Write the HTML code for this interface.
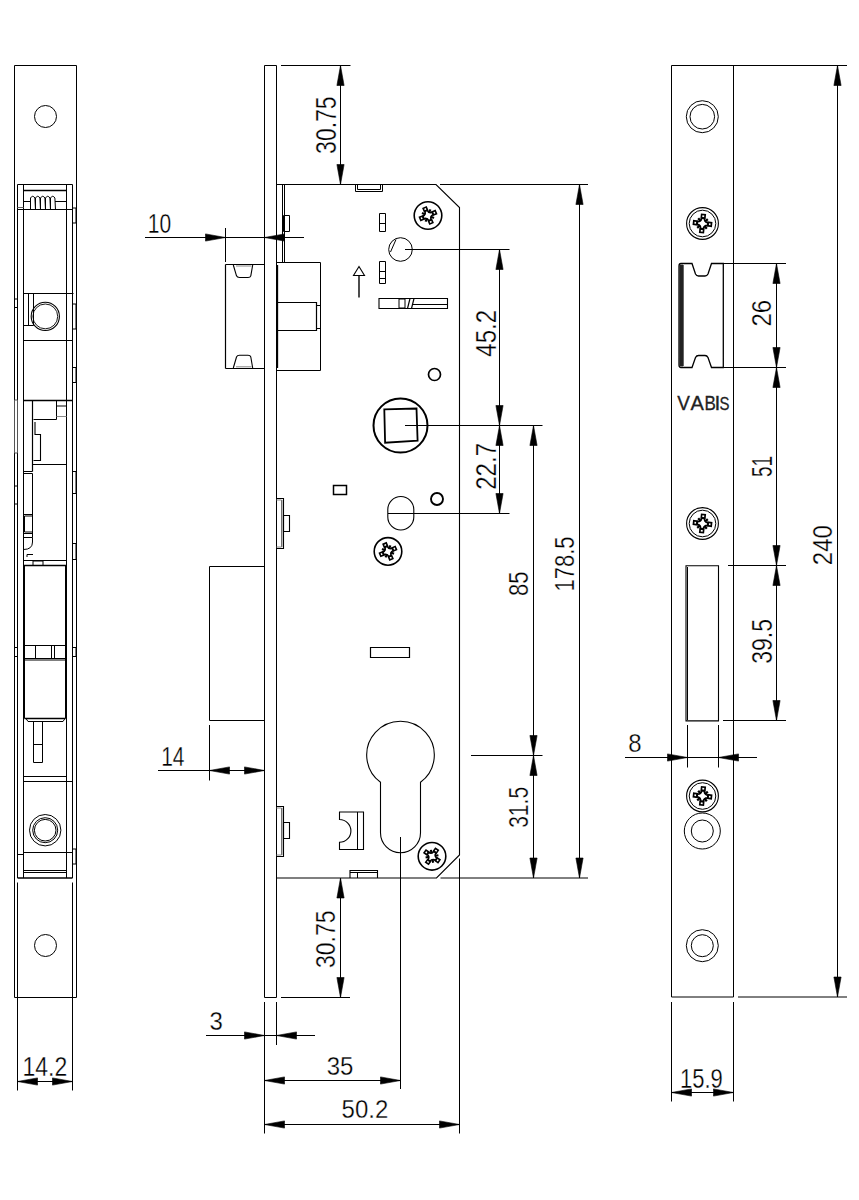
<!DOCTYPE html>
<html><head><meta charset="utf-8"><title>Lock drawing</title>
<style>
html,body{margin:0;padding:0;background:#fff;}
svg{display:block;}
text{font-family:"Liberation Sans", sans-serif;}
</style></head><body>
<svg width="859" height="1200" viewBox="0 0 859 1200">
<rect x="0" y="0" width="859" height="1200" fill="#fff"/>
<g fill="none" stroke="#000" stroke-width="1" stroke-linecap="butt">
<path d="M14.5 65.5 L76.5 65.5 L76.5 997.5 L14.5 997.5 Z"/>
<circle cx="45.5" cy="116.5" r="11"/>
<circle cx="45.5" cy="945.5" r="11"/>
<line x1="17.5" y1="184.5" x2="17.5" y2="878"/>
<line x1="72.5" y1="184.5" x2="72.5" y2="878"/>
<line x1="17.5" y1="184.5" x2="72.5" y2="184.5"/>
<line x1="17.5" y1="878" x2="72.5" y2="878" stroke-width="1.4"/>
<line x1="17.5" y1="882.5" x2="17.5" y2="1090.5"/>
<line x1="72.5" y1="882.5" x2="72.5" y2="1090.5"/>
<line x1="17.5" y1="1081.5" x2="72.5" y2="1081.5"/>
<path d="M17.5 1081.5 L37.5 1077.9 L37.5 1085.1 Z" stroke-width="0.6" fill="#000"/>
<path d="M72.5 1081.5 L52.5 1077.9 L52.5 1085.1 Z" stroke-width="0.6" fill="#000"/>
<text transform="matrix(0.23 0 0 0.27 22.46 1075.8)" font-size="100" fill="#000" stroke="#fff" stroke-width="1.2">14.2</text>
<line x1="23.5" y1="184.5" x2="23.5" y2="878"/>
<line x1="66.5" y1="184.5" x2="66.5" y2="878"/>
<line x1="23.5" y1="190.5" x2="66.5" y2="190.5" stroke-width="1.3"/>
<line x1="23.5" y1="201.5" x2="30" y2="201.5"/>
<line x1="55" y1="201.5" x2="66.5" y2="201.5"/>
<path d="M30.5 210 L30.5 198 Q32.7 194.5 34.9 198 L35.5 210" stroke-width="1.0"/>
<path d="M35.5 210 L35.5 198 Q37.7 194.5 39.9 198 L40.5 210" stroke-width="1.0"/>
<path d="M40.5 210 L40.5 198 Q42.7 194.5 44.9 198 L45.5 210" stroke-width="1.0"/>
<path d="M45.5 210 L45.5 198 Q47.7 194.5 49.9 198 L50.5 210" stroke-width="1.0"/>
<path d="M50.5 210 L50.5 198 Q52.7 194.5 54.9 198 L55.5 210" stroke-width="1.0"/>
<line x1="17.5" y1="209.5" x2="72.5" y2="209.5" stroke-width="1.2"/>
<line x1="17.5" y1="207.5" x2="23.5" y2="207.5" stroke="#666"/>
<path d="M72.5 208 L76 208 L76 223 L72.5 223 Z"/>
<line x1="23.5" y1="293.5" x2="73.5" y2="293.5" stroke-width="1.2"/>
<line x1="28.5" y1="293.5" x2="28.5" y2="325.5"/>
<line x1="33.5" y1="293.5" x2="33.5" y2="325.5"/>
<line x1="23.5" y1="325.5" x2="33.5" y2="325.5"/>
<circle cx="45.3" cy="316.4" r="14.1" stroke-width="1.1"/>
<circle cx="45.3" cy="316.4" r="12.4" stroke-width="0.9"/>
<line x1="23.5" y1="340.5" x2="72.5" y2="340.5" stroke-width="1.2"/>
<path d="M14.5 299 L17.5 299 L17.5 307.5 L14.5 307.5 Z"/>
<path d="M72.5 304 L76 304 L76 329 L72.5 329 Z"/>
<path d="M72.5 367.5 L76 367.5 L76 382.5 L72.5 382.5 Z"/>
<line x1="23.5" y1="400.5" x2="72.5" y2="400.5" stroke-width="1.4"/>
<line x1="32.5" y1="400.5" x2="32.5" y2="471.5" stroke-width="1.2"/>
<line x1="56.5" y1="400.5" x2="56.5" y2="419.5"/>
<line x1="56.5" y1="406" x2="66.5" y2="406"/>
<line x1="56.5" y1="416.5" x2="66.5" y2="416.5" stroke="#888"/>
<path d="M33.5 419.5 L56.5 419.5 M35 422 L35 434.5 L40.5 434.5 L40.5 460.5 L33.5 460.5 M33 464.5 L66.5 464.5" stroke-width="1.1"/>
<line x1="23.5" y1="471.5" x2="32.5" y2="471.5"/>
<line x1="23.5" y1="473.5" x2="32.5" y2="473.5"/>
<line x1="23.5" y1="514.5" x2="32.5" y2="514.5"/>
<line x1="32.5" y1="473.5" x2="32.5" y2="537.5"/>
<path d="M72.5 543.5 L76 543.5 L76 559.5 L72.5 559.5 Z"/>
<path d="M24.5 516 L32.5 516 L32.5 532 L24.5 532 Z"/>
<line x1="23.5" y1="533.5" x2="32.5" y2="533.5"/>
<line x1="23.5" y1="537.5" x2="32.5" y2="537.5"/>
<path d="M32.5 537.5 L32.5 542 Q32.5 549.5 23.5 549.5" stroke-width="1.0"/>
<path d="M27 557 L27 554.5 L33 554.5"/>
<line x1="23.5" y1="560.5" x2="66.5" y2="560.5"/>
<path d="M33 561 L43 561 L43 565.5 L33 565.5 Z"/>
<line x1="23.5" y1="565.5" x2="66.5" y2="565.5" stroke-width="1.4"/>
<path d="M14.5 400 L17.5 400 L17.5 453 L14.5 453 Z" stroke="#555"/>
<path d="M72.5 471.5 L76 471.5 L76 493.5 L72.5 493.5 Z"/>
<path d="M14.5 486 L17.5 486 L17.5 504 L14.5 504 Z"/>
<line x1="24.5" y1="565.5" x2="24.5" y2="718.5"/>
<line x1="65.5" y1="565.5" x2="65.5" y2="718.5"/>
<line x1="24.5" y1="645.5" x2="65.5" y2="645.5" stroke-width="1.2"/>
<line x1="35.5" y1="645.5" x2="35.5" y2="658"/>
<line x1="51.5" y1="645.5" x2="51.5" y2="658"/>
<line x1="54.5" y1="645.5" x2="54.5" y2="658"/>
<line x1="23.5" y1="658.5" x2="66.5" y2="658.5" stroke-width="1.2"/>
<line x1="23.5" y1="660" x2="66.5" y2="660"/>
<path d="M14.5 647.5 L17.5 647.5 L17.5 656.5 L14.5 656.5 Z"/>
<path d="M72.5 647.5 L76 647.5 L76 656.5 L72.5 656.5 Z"/>
<line x1="24.5" y1="718.5" x2="65.5" y2="718.5" stroke-width="1.3"/>
<path d="M26 718.5 L28 721.5 L63 721.5 L65 718.5" stroke-width="1.0"/>
<path d="M33.5 721.5 L42.5 721.5 L42.5 762.5 L33.5 762.5 Z"/>
<line x1="33.5" y1="744.5" x2="42.5" y2="744.5"/>
<line x1="23.5" y1="776.5" x2="66.5" y2="776.5" stroke-width="1.2"/>
<line x1="23.5" y1="781.5" x2="73" y2="781.5"/>
<circle cx="45.2" cy="830.2" r="15.7" stroke-width="1.0"/>
<circle cx="45.2" cy="830.2" r="12.5" stroke-width="1.0"/>
<circle cx="45.2" cy="830.2" r="10.8" stroke-width="1.0"/>
<line x1="23.5" y1="852.5" x2="72.5" y2="852.5"/>
<line x1="17.5" y1="854.5" x2="23.5" y2="854.5"/>
<path d="M72.5 849 L76 849 L76 864 L72.5 864 Z"/>
<line x1="23.5" y1="870.5" x2="66.5" y2="870.5"/>
<line x1="23.5" y1="872.5" x2="66.5" y2="872.5"/>
<path d="M264.5 65.5 L276.5 65.5 L276.5 997.5 L264.5 997.5 Z"/>
<path d="M276.5 184.5 L436 184.5 L459.5 207.5 L459.5 855 L436.5 878 L276.5 878" stroke-width="1.1"/>
<line x1="281" y1="65.5" x2="350.5" y2="65.5"/>
<line x1="340.5" y1="65.5" x2="340.5" y2="184.5"/>
<path d="M340.5 65.5 L336.9 85.5 L344.1 85.5 Z" stroke-width="0.6" fill="#000"/>
<path d="M340.5 184.5 L336.9 164.5 L344.1 164.5 Z" stroke-width="0.6" fill="#000"/>
<text transform="matrix(0 -0.23 0.29 0 335.52 153.88)" font-size="100" fill="#000" stroke="#fff" stroke-width="1.2">30.75</text>
<line x1="440" y1="184.5" x2="588" y2="184.5"/>
<line x1="579.5" y1="184.5" x2="579.5" y2="878"/>
<path d="M579.5 184.5 L575.9 204.5 L583.1 204.5 Z" stroke-width="0.6" fill="#000"/>
<path d="M579.5 878 L575.9 858 L583.1 858 Z" stroke-width="0.6" fill="#000"/>
<text transform="matrix(0 -0.22 0.28 0 573.53 591.47)" font-size="100" fill="#000" stroke="#fff" stroke-width="1.2">178.5</text>
<line x1="405" y1="249.5" x2="509.5" y2="249.5"/>
<line x1="499.5" y1="249.5" x2="499.5" y2="425.5"/>
<path d="M499.5 249.5 L495.9 269.5 L503.1 269.5 Z" stroke-width="0.6" fill="#000"/>
<path d="M499.5 425.5 L495.9 405.5 L503.1 405.5 Z" stroke-width="0.6" fill="#000"/>
<text transform="matrix(0 -0.24 0.3 0 495.61 356.66)" font-size="100" fill="#000" stroke="#fff" stroke-width="1.2">45.2</text>
<line x1="405" y1="425.5" x2="542.5" y2="425.5"/>
<line x1="499.5" y1="425.5" x2="499.5" y2="513.5"/>
<path d="M499.5 425.5 L495.9 445.5 L503.1 445.5 Z" stroke-width="0.6" fill="#000"/>
<path d="M499.5 513.5 L495.9 493.5 L503.1 493.5 Z" stroke-width="0.6" fill="#000"/>
<text transform="matrix(0 -0.24 0.3 0 495.9 489.72)" font-size="100" fill="#000" stroke="#fff" stroke-width="1.2">22.7</text>
<line x1="388" y1="513.5" x2="509.5" y2="513.5"/>
<line x1="533.5" y1="425.5" x2="533.5" y2="755.5"/>
<path d="M533.5 425.5 L529.9 445.5 L537.1 445.5 Z" stroke-width="0.6" fill="#000"/>
<path d="M533.5 755.5 L529.9 735.5 L537.1 735.5 Z" stroke-width="0.6" fill="#000"/>
<text transform="matrix(0 -0.22 0.28 0 527.93 596.06)" font-size="100" fill="#000" stroke="#fff" stroke-width="1.2">85</text>
<line x1="471" y1="755.5" x2="542.5" y2="755.5"/>
<line x1="533.5" y1="755.5" x2="533.5" y2="878"/>
<path d="M533.5 755.5 L529.9 775.5 L537.1 775.5 Z" stroke-width="0.6" fill="#000"/>
<path d="M533.5 878 L529.9 858 L537.1 858 Z" stroke-width="0.6" fill="#000"/>
<text transform="matrix(0 -0.21 0.28 0 527.93 827.8)" font-size="100" fill="#000" stroke="#fff" stroke-width="1.2">31.5</text>
<line x1="440.5" y1="878" x2="588" y2="878"/>
<line x1="281" y1="997.5" x2="350" y2="997.5"/>
<line x1="340.5" y1="878" x2="340.5" y2="997.5"/>
<path d="M340.5 878 L336.9 898 L344.1 898 Z" stroke-width="0.6" fill="#000"/>
<path d="M340.5 997.5 L336.9 977.5 L344.1 977.5 Z" stroke-width="0.6" fill="#000"/>
<text transform="matrix(0 -0.23 0.28 0 334.63 967.99)" font-size="100" fill="#000" stroke="#fff" stroke-width="1.2">30.75</text>
<line x1="400.5" y1="837" x2="400.5" y2="1089"/>
<line x1="264.5" y1="1002" x2="264.5" y2="1133.5"/>
<line x1="276.5" y1="1002" x2="276.5" y2="1045"/>
<line x1="459.5" y1="858.5" x2="459.5" y2="1133.5"/>
<line x1="264.5" y1="1080.5" x2="400.5" y2="1080.5"/>
<path d="M264.5 1080.5 L284.5 1076.9 L284.5 1084.1 Z" stroke-width="0.6" fill="#000"/>
<path d="M400.5 1080.5 L380.5 1076.9 L380.5 1084.1 Z" stroke-width="0.6" fill="#000"/>
<text transform="matrix(0.24 0 0 0.26 326.68 1075.44)" font-size="100" fill="#000" stroke="#fff" stroke-width="1.2">35</text>
<line x1="264.5" y1="1124.5" x2="459.5" y2="1124.5"/>
<path d="M264.5 1124.5 L284.5 1120.9 L284.5 1128.1 Z" stroke-width="0.6" fill="#000"/>
<path d="M459.5 1124.5 L439.5 1120.9 L439.5 1128.1 Z" stroke-width="0.6" fill="#000"/>
<text transform="matrix(0.24 0 0 0.25 341.56 1118.06)" font-size="100" fill="#000" stroke="#fff" stroke-width="1.2">50.2</text>
<line x1="206" y1="1035.5" x2="315" y2="1035.5"/>
<path d="M264.5 1035.5 L244.5 1031.9 L244.5 1039.1 Z" stroke-width="0.6" fill="#000"/>
<path d="M276.5 1035.5 L296.5 1031.9 L296.5 1039.1 Z" stroke-width="0.6" fill="#000"/>
<text transform="matrix(0.24 0 0 0.25 209.57 1030.45)" font-size="100" fill="#000" stroke="#fff" stroke-width="1.2">3</text>
<line x1="145" y1="237.5" x2="304" y2="237.5"/>
<path d="M225.5 237.5 L205.5 233.9 L205.5 241.1 Z" stroke-width="0.6" fill="#000"/>
<path d="M264.5 237.5 L284.5 233.9 L284.5 241.1 Z" stroke-width="0.6" fill="#000"/>
<line x1="225.5" y1="228" x2="225.5" y2="262"/>
<text transform="matrix(0.21 0 0 0.27 147.73 232.74)" font-size="100" fill="#000" stroke="#fff" stroke-width="1.2">10</text>
<line x1="158" y1="770.5" x2="264.5" y2="770.5"/>
<path d="M209.5 770.5 L229.5 766.9 L229.5 774.1 Z" stroke-width="0.6" fill="#000"/>
<path d="M264.5 770.5 L244.5 766.9 L244.5 774.1 Z" stroke-width="0.6" fill="#000"/>
<line x1="209.5" y1="725" x2="209.5" y2="780.5"/>
<text transform="matrix(0.21 0 0 0.27 161.17 765.5)" font-size="100" fill="#000" stroke="#fff" stroke-width="1.2">14</text>
<path d="M264.5 566.5 L209.5 566.5 L209.5 720.5 L264.5 720.5"/>
<line x1="225.5" y1="264.5" x2="264.5" y2="264.5" stroke-width="1.2"/>
<line x1="225.5" y1="368.5" x2="264.5" y2="368.5" stroke-width="1.2"/>
<line x1="225.5" y1="264.5" x2="225.5" y2="368.5" stroke-width="1.2"/>
<path d="M233.3 265 L236.5 275.8 Q237.2 277.5 239.5 277.5 L248 277.5 Q250.3 277.5 250.8 275.8 L252.7 265" stroke-width="1.1"/>
<path d="M233.3 368 L236.5 357 Q237.2 355.3 239.5 355.3 L248 355.3 Q250.3 355.3 250.8 357 L252.7 368" stroke-width="1.1"/>
<line x1="236" y1="266" x2="251.5" y2="266" stroke="#888"/>
<line x1="236" y1="366.8" x2="251.5" y2="366.8" stroke="#888"/>
<path d="M276.5 262.5 L320.5 262.5 L320.5 370.5 L276.5 370.5"/>
<line x1="277.5" y1="265" x2="277.5" y2="368" stroke-width="1.3"/>
<path d="M277.5 302.5 L316.5 302.5 L316.5 330.5 L277.5 330.5" stroke-width="1.2"/>
<path d="M316.5 305.5 L320.5 305.5 L320.5 328.5 L316.5 328.5"/>
<line x1="282.5" y1="184.5" x2="282.5" y2="262.5"/>
<line x1="284.5" y1="184.5" x2="284.5" y2="262.5"/>
<path d="M283.5 215.5 L289.5 215.5 L289.5 231.5 L283.5 231.5 Z"/>
<path d="M276.5 498.5 L283.5 498.5 L283.5 548.5 L276.5 548.5" stroke-width="1.1"/>
<line x1="281.8" y1="500" x2="281.8" y2="547" stroke="#333"/>
<line x1="276.5" y1="500" x2="281.5" y2="500" stroke="#888"/>
<line x1="276.5" y1="547" x2="281.5" y2="547" stroke="#888"/>
<path d="M283.5 515.5 L289.5 515.5 L289.5 531.5 L283.5 531.5 Z" stroke-width="1.1"/>
<path d="M276.5 806.5 L283.5 806.5 L283.5 856.5 L276.5 856.5" stroke-width="1.1"/>
<line x1="281.8" y1="808" x2="281.8" y2="855" stroke="#333"/>
<line x1="276.5" y1="808" x2="281.5" y2="808" stroke="#888"/>
<line x1="276.5" y1="855" x2="281.5" y2="855" stroke="#888"/>
<path d="M283.5 822.5 L289.5 822.5 L289.5 838.5 L283.5 838.5 Z" stroke-width="1.1"/>
<path d="M355.5 184.5 L355.5 191.5 L382.5 191.5 L382.5 184.5"/>
<line x1="357.5" y1="184.5" x2="357.5" y2="189.5"/>
<line x1="380.5" y1="184.5" x2="380.5" y2="189.5"/>
<line x1="357.5" y1="189.5" x2="380.5" y2="189.5"/>
<g transform="translate(428 215.5)">
<circle cx="0" cy="0" r="13.8" stroke-width="1.6"/>
<g transform="rotate(-23) scale(1.0)">
<path d="M5.3 -1.2 L5.3 1.2 Q1.41 1.41 1.2 5.3 L1.2 5.3 L-1.2 5.3 Q-1.41 1.41 -5.3 1.2 L-5.3 1.2 L-5.3 -1.2 Q-1.41 -1.41 -1.2 -5.3 L-1.2 -5.3 L1.2 -5.3 Q1.41 -1.41 5.3 -1.2 Z" stroke-width="1.6"/>
<path d="M5.1 -1.7 L8.5 -1.7 L8.5 1.7 L5.1 1.7 Z" stroke-width="1.6"/>
<line x1="2.12" y1="2.12" x2="4.6" y2="4.6" stroke-width="2.1"/>
<path d="M1.7 5.1 L1.7 8.5 L-1.7 8.5 L-1.7 5.1 Z" stroke-width="1.6"/>
<line x1="-2.12" y1="2.12" x2="-4.6" y2="4.6" stroke-width="2.1"/>
<path d="M-5.1 1.7 L-8.5 1.7 L-8.5 -1.7 L-5.1 -1.7 Z" stroke-width="1.6"/>
<line x1="-2.12" y1="-2.12" x2="-4.6" y2="-4.6" stroke-width="2.1"/>
<path d="M-1.7 -5.1 L-1.7 -8.5 L1.7 -8.5 L1.7 -5.1 Z" stroke-width="1.6"/>
<line x1="2.12" y1="-2.12" x2="4.6" y2="-4.6" stroke-width="2.1"/>
</g></g>
<path d="M379.5 213.5 L385.5 213.5 L385.5 231.5 L379.5 231.5 Z"/>
<line x1="379.5" y1="223.5" x2="385.5" y2="223.5"/>
<path d="M379.5 261.5 L385.5 261.5 L385.5 283.5 L379.5 283.5 Z"/>
<line x1="379.5" y1="271.5" x2="385.5" y2="271.5"/>
<line x1="379.5" y1="278.5" x2="385.5" y2="278.5"/>
<circle cx="400.5" cy="249.5" r="11.8"/>
<line x1="390.5" y1="252" x2="396" y2="239.5"/>
<path d="M359 266.5 L364.5 275.5 L353.5 275.5 Z" stroke-width="1.1"/>
<line x1="359" y1="275.5" x2="359" y2="297.5" stroke-width="1.4"/>
<path d="M379 298.5 L447.5 298.5 L447.5 308.5 L379 308.5 Z" stroke-width="1.1"/>
<line x1="412.5" y1="304.5" x2="447.5" y2="304.5"/>
<path d="M399 299 L405 299 L405 308 L399 308 Z"/>
<line x1="407.5" y1="308.5" x2="410" y2="298.5" stroke-width="1.2"/>
<line x1="411.5" y1="308.5" x2="414" y2="298.5" stroke-width="1.2"/>
<circle cx="434.5" cy="374.5" r="6" stroke-width="1.7"/>
<circle cx="400.5" cy="425.5" r="27" stroke-width="2.0"/>
<path d="M384.3 409.4 L416.5 408.5 L417.6 440.7 L385.1 442.7 Z" stroke-width="1.8"/>
<path d="M333.5 485.5 L346.5 485.5 L346.5 494.5 L333.5 494.5 Z" stroke-width="1.5"/>
<circle cx="437" cy="499" r="6" stroke-width="1.9"/>
<path d="M387.8 509.5 A13 13 0 0 1 413.8 509.5 L413.8 517 A13 13 0 0 1 387.8 517 Z" stroke-width="1.1"/>
<g transform="translate(388 551.4)">
<circle cx="0" cy="0" r="13.8" stroke-width="1.6"/>
<g transform="rotate(-23) scale(1.0)">
<path d="M5.3 -1.2 L5.3 1.2 Q1.41 1.41 1.2 5.3 L1.2 5.3 L-1.2 5.3 Q-1.41 1.41 -5.3 1.2 L-5.3 1.2 L-5.3 -1.2 Q-1.41 -1.41 -1.2 -5.3 L-1.2 -5.3 L1.2 -5.3 Q1.41 -1.41 5.3 -1.2 Z" stroke-width="1.6"/>
<path d="M5.1 -1.7 L8.5 -1.7 L8.5 1.7 L5.1 1.7 Z" stroke-width="1.6"/>
<line x1="2.12" y1="2.12" x2="4.6" y2="4.6" stroke-width="2.1"/>
<path d="M1.7 5.1 L1.7 8.5 L-1.7 8.5 L-1.7 5.1 Z" stroke-width="1.6"/>
<line x1="-2.12" y1="2.12" x2="-4.6" y2="4.6" stroke-width="2.1"/>
<path d="M-5.1 1.7 L-8.5 1.7 L-8.5 -1.7 L-5.1 -1.7 Z" stroke-width="1.6"/>
<line x1="-2.12" y1="-2.12" x2="-4.6" y2="-4.6" stroke-width="2.1"/>
<path d="M-1.7 -5.1 L-1.7 -8.5 L1.7 -8.5 L1.7 -5.1 Z" stroke-width="1.6"/>
<line x1="2.12" y1="-2.12" x2="4.6" y2="-4.6" stroke-width="2.1"/>
</g></g>
<path d="M370.5 647.5 L409.5 647.5 L409.5 657.5 L370.5 657.5 Z" stroke-width="1.2"/>
<path d="M380.5 782.3 A33.8 33.8 0 1 1 420.5 782.3 L420.5 832.7 A20 20 0 0 1 380.5 832.7 Z" stroke-width="1.1"/>
<path d="M363.5 812 L339.5 812 L339.5 819.5 A11.4 11.4 0 0 1 339.5 842.3 L339.5 849.5 L363.5 849.5 Z" stroke-width="1.1"/>
<line x1="357.5" y1="812" x2="357.5" y2="849.5"/>
<path d="M350 878 L350 870.5 L377.5 870.5 L377.5 878" stroke-width="1.1"/>
<line x1="350" y1="872.5" x2="377.5" y2="872.5"/>
<line x1="357.5" y1="872.5" x2="357.5" y2="878"/>
<g transform="translate(432 856.3)">
<circle cx="0" cy="0" r="13.8" stroke-width="1.6"/>
<g transform="rotate(35) scale(1.0)">
<path d="M5.3 -1.2 L5.3 1.2 Q1.41 1.41 1.2 5.3 L1.2 5.3 L-1.2 5.3 Q-1.41 1.41 -5.3 1.2 L-5.3 1.2 L-5.3 -1.2 Q-1.41 -1.41 -1.2 -5.3 L-1.2 -5.3 L1.2 -5.3 Q1.41 -1.41 5.3 -1.2 Z" stroke-width="1.6"/>
<path d="M5.1 -1.7 L8.5 -1.7 L8.5 1.7 L5.1 1.7 Z" stroke-width="1.6"/>
<line x1="2.12" y1="2.12" x2="4.6" y2="4.6" stroke-width="2.1"/>
<path d="M1.7 5.1 L1.7 8.5 L-1.7 8.5 L-1.7 5.1 Z" stroke-width="1.6"/>
<line x1="-2.12" y1="2.12" x2="-4.6" y2="4.6" stroke-width="2.1"/>
<path d="M-5.1 1.7 L-8.5 1.7 L-8.5 -1.7 L-5.1 -1.7 Z" stroke-width="1.6"/>
<line x1="-2.12" y1="-2.12" x2="-4.6" y2="-4.6" stroke-width="2.1"/>
<path d="M-1.7 -5.1 L-1.7 -8.5 L1.7 -8.5 L1.7 -5.1 Z" stroke-width="1.6"/>
<line x1="2.12" y1="-2.12" x2="4.6" y2="-4.6" stroke-width="2.1"/>
</g></g>
<path d="M671.5 65.5 L733.5 65.5 L733.5 997 L671.5 997 Z"/>
<line x1="676" y1="65.5" x2="847" y2="65.5"/>
<line x1="738" y1="997" x2="847" y2="997"/>
<line x1="837.5" y1="65.5" x2="837.5" y2="997"/>
<path d="M837.5 65.5 L833.9 85.5 L841.1 85.5 Z" stroke-width="0.6" fill="#000"/>
<path d="M837.5 997 L833.9 977 L841.1 977 Z" stroke-width="0.6" fill="#000"/>
<text transform="matrix(0 -0.24 0.28 0 832.23 565.21)" font-size="100" fill="#000" stroke="#fff" stroke-width="1.2">240</text>
<circle cx="702.3" cy="116.7" r="16"/>
<circle cx="702.3" cy="116.7" r="12.3"/>
<g transform="translate(702.5 223.5)">
<circle cx="0" cy="0" r="15.9" stroke-width="1.1"/>
<circle cx="0" cy="0" r="13.3" stroke-width="1.0"/>
<g transform="rotate(6) scale(1.05)">
<path d="M5.3 -1.2 L5.3 1.2 Q1.41 1.41 1.2 5.3 L1.2 5.3 L-1.2 5.3 Q-1.41 1.41 -5.3 1.2 L-5.3 1.2 L-5.3 -1.2 Q-1.41 -1.41 -1.2 -5.3 L-1.2 -5.3 L1.2 -5.3 Q1.41 -1.41 5.3 -1.2 Z" stroke-width="1.6"/>
<path d="M5.1 -1.7 L8.5 -1.7 L8.5 1.7 L5.1 1.7 Z" stroke-width="1.6"/>
<line x1="2.12" y1="2.12" x2="4.6" y2="4.6" stroke-width="2.1"/>
<path d="M1.7 5.1 L1.7 8.5 L-1.7 8.5 L-1.7 5.1 Z" stroke-width="1.6"/>
<line x1="-2.12" y1="2.12" x2="-4.6" y2="4.6" stroke-width="2.1"/>
<path d="M-5.1 1.7 L-8.5 1.7 L-8.5 -1.7 L-5.1 -1.7 Z" stroke-width="1.6"/>
<line x1="-2.12" y1="-2.12" x2="-4.6" y2="-4.6" stroke-width="2.1"/>
<path d="M-1.7 -5.1 L-1.7 -8.5 L1.7 -8.5 L1.7 -5.1 Z" stroke-width="1.6"/>
<line x1="2.12" y1="-2.12" x2="4.6" y2="-4.6" stroke-width="2.1"/>
</g></g>
<path d="M723.3 263.5 L711.5 263.5 L708 274 Q707 276 705 276 L698.5 276 Q696.5 276 695.5 274 L692 263.5 L681 263.5 Q679 263.5 679 266 L679 365 Q679 367.5 681 367.5 L692 367.5 L695.5 357.5 Q696.5 355.5 698.5 355.5 L705 355.5 Q707 355.5 708 357.5 L711.5 367.5 L723.3 367.5 Z" stroke-width="1.3"/>
<path d="M680 265 L683 265 L683 366 L680 366 Z" stroke-width="0.8" stroke="#222"/>
<rect x="679.5" y="265" width="4" height="101" fill="#222" stroke="none"/>
<line x1="723.3" y1="263.5" x2="786" y2="263.5"/>
<line x1="723.3" y1="367.5" x2="786" y2="367.5"/>
<line x1="776.5" y1="263.5" x2="776.5" y2="367.5"/>
<path d="M776.5 263.5 L772.9 283.5 L780.1 283.5 Z" stroke-width="0.6" fill="#000"/>
<path d="M776.5 367.5 L772.9 347.5 L780.1 347.5 Z" stroke-width="0.6" fill="#000"/>
<text transform="matrix(0 -0.24 0.28 0 771.03 326.61)" font-size="100" fill="#000" stroke="#fff" stroke-width="1.2">26</text>
<text transform="matrix(0.19 0 0 0.2 677.32 410.4)" font-size="100" fill="#222" stroke="#222" stroke-width="1.5">V</text>
<text transform="matrix(0.2 0 0 0.2 690.46 410.4)" font-size="100" fill="#222" stroke="#222" stroke-width="1.5">A</text>
<text transform="matrix(0.17 0 0 0.2 704.43 410.4)" font-size="100" fill="#222" stroke="#222" stroke-width="1.5">B</text>
<text transform="matrix(0.21 0 0 0.2 714.52 410.4)" font-size="100" fill="#222" stroke="#222" stroke-width="1.5">I</text>
<text transform="matrix(0.15 0 0 0.19 719.53 410.21)" font-size="100" fill="#222" stroke="#222" stroke-width="1.5">S</text>
<line x1="776.5" y1="367.5" x2="776.5" y2="565.5"/>
<path d="M776.5 367.5 L772.9 387.5 L780.1 387.5 Z" stroke-width="0.6" fill="#000"/>
<path d="M776.5 565.5 L772.9 545.5 L780.1 545.5 Z" stroke-width="0.6" fill="#000"/>
<text transform="matrix(0 -0.19 0.29 0 771.62 477.07)" font-size="100" fill="#000" stroke="#fff" stroke-width="1.2">51</text>
<g transform="translate(702.5 523.5)">
<circle cx="0" cy="0" r="15.9" stroke-width="1.1"/>
<circle cx="0" cy="0" r="13.3" stroke-width="1.0"/>
<g transform="rotate(6) scale(1.05)">
<path d="M5.3 -1.2 L5.3 1.2 Q1.41 1.41 1.2 5.3 L1.2 5.3 L-1.2 5.3 Q-1.41 1.41 -5.3 1.2 L-5.3 1.2 L-5.3 -1.2 Q-1.41 -1.41 -1.2 -5.3 L-1.2 -5.3 L1.2 -5.3 Q1.41 -1.41 5.3 -1.2 Z" stroke-width="1.6"/>
<path d="M5.1 -1.7 L8.5 -1.7 L8.5 1.7 L5.1 1.7 Z" stroke-width="1.6"/>
<line x1="2.12" y1="2.12" x2="4.6" y2="4.6" stroke-width="2.1"/>
<path d="M1.7 5.1 L1.7 8.5 L-1.7 8.5 L-1.7 5.1 Z" stroke-width="1.6"/>
<line x1="-2.12" y1="2.12" x2="-4.6" y2="4.6" stroke-width="2.1"/>
<path d="M-5.1 1.7 L-8.5 1.7 L-8.5 -1.7 L-5.1 -1.7 Z" stroke-width="1.6"/>
<line x1="-2.12" y1="-2.12" x2="-4.6" y2="-4.6" stroke-width="2.1"/>
<path d="M-1.7 -5.1 L-1.7 -8.5 L1.7 -8.5 L1.7 -5.1 Z" stroke-width="1.6"/>
<line x1="2.12" y1="-2.12" x2="4.6" y2="-4.6" stroke-width="2.1"/>
</g></g>
<path d="M686 565.7 L718.5 565.7 L718.5 720.9 L686 720.9 Z" stroke-width="1.1"/>
<line x1="687.5" y1="567" x2="687.5" y2="720"/>
<line x1="728" y1="565.5" x2="786" y2="565.5"/>
<line x1="776.5" y1="565.5" x2="776.5" y2="720.5"/>
<path d="M776.5 565.5 L772.9 585.5 L780.1 585.5 Z" stroke-width="0.6" fill="#000"/>
<path d="M776.5 720.5 L772.9 700.5 L780.1 700.5 Z" stroke-width="0.6" fill="#000"/>
<text transform="matrix(0 -0.23 0.29 0 771.52 663.78)" font-size="100" fill="#000" stroke="#fff" stroke-width="1.2">39.5</text>
<line x1="723" y1="720.5" x2="786" y2="720.5"/>
<line x1="625" y1="757.5" x2="757" y2="757.5"/>
<path d="M687.5 757.5 L667.5 753.9 L667.5 761.1 Z" stroke-width="0.6" fill="#000"/>
<path d="M718.5 757.5 L738.5 753.9 L738.5 761.1 Z" stroke-width="0.6" fill="#000"/>
<line x1="687.5" y1="725" x2="687.5" y2="767.5"/>
<line x1="718.5" y1="725" x2="718.5" y2="767.5"/>
<text transform="matrix(0.24 0 0 0.26 628.27 752.34)" font-size="100" fill="#000" stroke="#fff" stroke-width="1.2">8</text>
<g transform="translate(702.5 796)">
<circle cx="0" cy="0" r="15.9" stroke-width="1.1"/>
<circle cx="0" cy="0" r="13.3" stroke-width="1.0"/>
<g transform="rotate(6) scale(1.05)">
<path d="M5.3 -1.2 L5.3 1.2 Q1.41 1.41 1.2 5.3 L1.2 5.3 L-1.2 5.3 Q-1.41 1.41 -5.3 1.2 L-5.3 1.2 L-5.3 -1.2 Q-1.41 -1.41 -1.2 -5.3 L-1.2 -5.3 L1.2 -5.3 Q1.41 -1.41 5.3 -1.2 Z" stroke-width="1.6"/>
<path d="M5.1 -1.7 L8.5 -1.7 L8.5 1.7 L5.1 1.7 Z" stroke-width="1.6"/>
<line x1="2.12" y1="2.12" x2="4.6" y2="4.6" stroke-width="2.1"/>
<path d="M1.7 5.1 L1.7 8.5 L-1.7 8.5 L-1.7 5.1 Z" stroke-width="1.6"/>
<line x1="-2.12" y1="2.12" x2="-4.6" y2="4.6" stroke-width="2.1"/>
<path d="M-5.1 1.7 L-8.5 1.7 L-8.5 -1.7 L-5.1 -1.7 Z" stroke-width="1.6"/>
<line x1="-2.12" y1="-2.12" x2="-4.6" y2="-4.6" stroke-width="2.1"/>
<path d="M-1.7 -5.1 L-1.7 -8.5 L1.7 -8.5 L1.7 -5.1 Z" stroke-width="1.6"/>
<line x1="2.12" y1="-2.12" x2="4.6" y2="-4.6" stroke-width="2.1"/>
</g></g>
<circle cx="702.3" cy="831" r="18"/>
<circle cx="702.3" cy="831" r="11"/>
<circle cx="702.3" cy="945.7" r="16"/>
<circle cx="702.3" cy="945.7" r="11"/>
<line x1="671.5" y1="1002" x2="671.5" y2="1101.5"/>
<line x1="733.5" y1="1002" x2="733.5" y2="1101.5"/>
<line x1="671.5" y1="1092.5" x2="733.5" y2="1092.5"/>
<path d="M671.5 1092.5 L691.5 1088.9 L691.5 1096.1 Z" stroke-width="0.6" fill="#000"/>
<path d="M733.5 1092.5 L713.5 1088.9 L713.5 1096.1 Z" stroke-width="0.6" fill="#000"/>
<text transform="matrix(0.22 0 0 0.27 679.99 1087.74)" font-size="100" fill="#000" stroke="#fff" stroke-width="1.2">15.9</text>
</g>
</svg>
</body></html>
